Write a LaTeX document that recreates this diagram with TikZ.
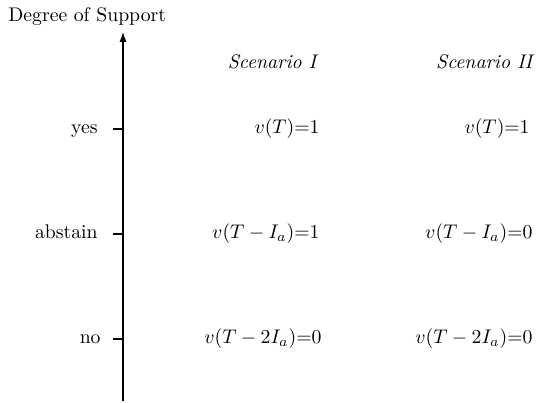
\documentclass[tikz,border=0pt]{standalone}
\usetikzlibrary{arrows.meta}
\begin{document}
\begin{tikzpicture}[x=0.5071pt,y=-0.5071pt,
  lbl/.style={inner sep=0pt},
  axisline/.style={line width=0.6pt},
  tickline/.style={line width=0.6pt}]
\useasboundingbox (0,0) rectangle (537,402);
\node[lbl,anchor=base west] (title) at (8,22) {Degree of Support};
\coordinate (bot) at (123,401);
\coordinate (top) at (123,32);
\draw[axisline,-{Latex[length=5pt,width=3.6pt]}] (bot) -- (top);
% ticks
\coordinate (t1) at (123,129); \coordinate (t1a) at (113,129);
\coordinate (t2) at (123,234); \coordinate (t2a) at (113,234);
\coordinate (t3) at (123,339); \coordinate (t3a) at (113,339);
\draw[tickline] (t1a) -- (t1);
\draw[tickline] (t2a) -- (t2);
\draw[tickline] (t3a) -- (t3);
\node[lbl,anchor=mid east] (yes) at (98,129) {yes};
\node[lbl,anchor=mid east] (abs) at (98,234) {abstain};
\node[lbl,anchor=mid east] (no) at (101,339) {no};
% scenario headers
\node[lbl,anchor=base east] (s1) at (319,69) {\textit{Scenario I}};
\node[lbl,anchor=base east] (s2) at (535,69) {\textit{Scenario II}};
% values
\node[lbl,anchor=east] (a1) at (320,129) {$v(T){=}1$};
\node[lbl,anchor=east] (a2) at (320,234) {$v(T-I_a){=}1$};
\node[lbl,anchor=east] (a3) at (322,339) {$v(T-2I_a){=}0$};
\node[lbl,anchor=east] (b1) at (530,129) {$v(T){=}1$};
\node[lbl,anchor=east] (b2) at (533,234) {$v(T-I_a){=}0$};
\node[lbl,anchor=east] (b3) at (533,339) {$v(T-2I_a){=}0$};
\end{tikzpicture}
\end{document}
